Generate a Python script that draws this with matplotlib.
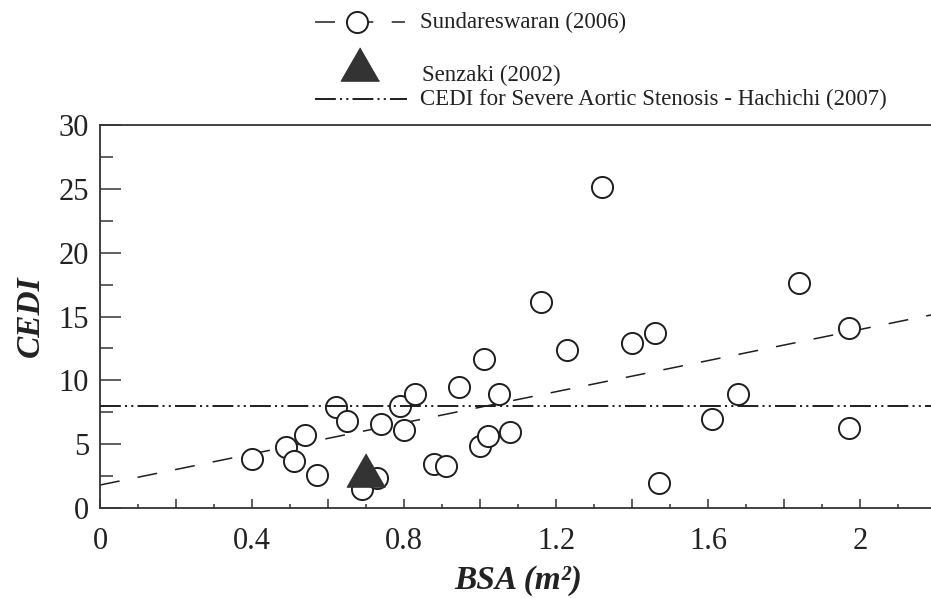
import matplotlib
matplotlib.use("Agg")
import matplotlib.pyplot as plt
from matplotlib.lines import Line2D
from matplotlib.ticker import MultipleLocator, FuncFormatter

# Sundareswaran (2006) points
sund_bsa = [0.40, 0.49, 0.51, 0.54, 0.57, 0.62, 0.65, 0.69, 0.73, 0.74, 0.79,
            0.80, 0.83, 0.88, 0.91, 0.945, 1.00, 1.02, 1.01, 1.05, 1.08, 1.16,
            1.23, 1.32, 1.40, 1.46, 1.47, 1.61, 1.68, 1.84, 1.97, 1.97]
sund_cedi = [3.87, 4.79, 3.69, 5.75, 2.62, 7.92, 6.78, 1.52, 2.35, 6.59, 8.0,
             6.09, 8.92, 3.48, 3.30, 9.44, 4.89, 5.62, 11.64, 8.92, 5.96, 16.16,
             12.37, 25.18, 12.94, 13.68, 1.96, 6.96, 8.92, 17.6, 14.12, 6.30]

# trend line of Sundareswaran data (end points)
fit_bsa = [0.0, 2.2]
fit_cedi = [1.8, 15.2]

# Senzaki (2002)
senz_bsa = [0.70]
senz_cedi = [3.0]

# Hachichi (2007) severe AS threshold
hach_cedi = 8.0

labels = ['Sundareswaran (2006)', 'Senzaki (2002)',
          'CEDI for Severe Aortic Stenosis - Hachichi (2007)']

plt.rcParams['font.family'] = 'Liberation Serif'
plt.rcParams['lines.scale_dashes'] = False
ink = '#1e1e1e'

W, H = 931, 598
fig = plt.figure(figsize=(W / 100, H / 100), dpi=100)
ax = fig.add_axes([100 / W, (H - 508) / H, 836 / W, 383 / H])

dash = (0, (14.4, 13.2))
dashdotdot = (0, (15, 3, 1.5, 3, 1.5, 3))
tri = [(0, 1), (-1.15, -1), (1.15, -1)]
circ_ms = 15.2

ax.plot(fit_bsa, fit_cedi, color=ink, lw=1.1, linestyle=dash, zorder=2)
ax.plot(sund_bsa, sund_cedi, 'o', ms=circ_ms, mfc='white', mec=ink, mew=1.4,
        linestyle='none', zorder=3)
ax.axhline(hach_cedi, color=ink, lw=1.4, linestyle=dashdotdot, zorder=4)
ax.plot(senz_bsa, senz_cedi, marker=tri, ms=27.5, color='#333333',
        linestyle='none', zorder=5)

ax.set_xlim(0, 2.2)
ax.set_ylim(0, 30)

for side in ['left', 'bottom', 'top']:
    ax.spines[side].set_linewidth(1.3)
    ax.spines[side].set_color('#333333')
ax.spines['right'].set_visible(False)

ax.xaxis.set_major_locator(MultipleLocator(0.2))
ax.xaxis.set_minor_locator(MultipleLocator(0.1))
ax.yaxis.set_major_locator(MultipleLocator(5))
ax.yaxis.set_minor_locator(MultipleLocator(2.5))


def xfmt(v, pos):
    if round(v / 0.4, 6) % 1 != 0:
        return ''
    return f'{v:.1f}'.rstrip('0').rstrip('.') if v != 0 else '0'


ax.xaxis.set_major_formatter(FuncFormatter(xfmt))
ax.tick_params(axis='x', which='major', direction='in', length=6.7, width=1.1,
               color='#333333', labelsize=22, pad=14, top=False)
ax.tick_params(axis='x', which='minor', direction='in', length=3.1, width=1.1,
               color='#333333', top=False)
ax.tick_params(axis='y', which='major', direction='in', length=15, width=1.1,
               color='#333333', labelsize=22, pad=8, right=False)
ax.tick_params(axis='y', which='minor', direction='in', length=9, width=1.1,
               color='#333333', right=False)
for t in ax.get_xticklabels() + ax.get_yticklabels():
    t.set_color('#222222')

ax.set_xlabel('BSA (m²)', fontsize=24, fontweight='bold', fontstyle='italic',
              color='#222222', va='center')
ax.xaxis.set_label_coords(0.5, -0.188)
ax.set_ylabel('CEDI', fontsize=24, fontweight='bold', fontstyle='italic',
              color='#222222', va='center')
ax.yaxis.set_label_coords(-0.083, 0.5)


# legend drawn above the axes, in figure pixels
def fx(px):
    return px / W


def fy(py):
    return 1 - py / H


fig.add_artist(Line2D([fx(315), fx(405)], [fy(22), fy(22)], color=ink, lw=1.1,
                      linestyle=(0, (14.4, 13.2))))
fig.add_artist(Line2D([fx(357)], [fy(22)], marker='o', ms=circ_ms, mfc='white',
                      mec=ink, mew=1.4, linestyle='none'))
fig.add_artist(Line2D([fx(360)], [fy(64)], marker=tri, ms=27.5,
                      color='#333333', linestyle='none'))
fig.add_artist(Line2D([fx(315), fx(407)], [fy(99), fy(99)], color=ink, lw=1.4,
                      linestyle=dashdotdot))
fig.text(fx(420), fy(22), labels[0], fontsize=16.5, va='center', color='#222222')
fig.text(fx(422), fy(75), labels[1], fontsize=16.5, va='center', color='#222222')
fig.text(fx(420), fy(99), labels[2], fontsize=16.5, va='center', color='#222222')

fig.savefig('out.png', dpi=100)
